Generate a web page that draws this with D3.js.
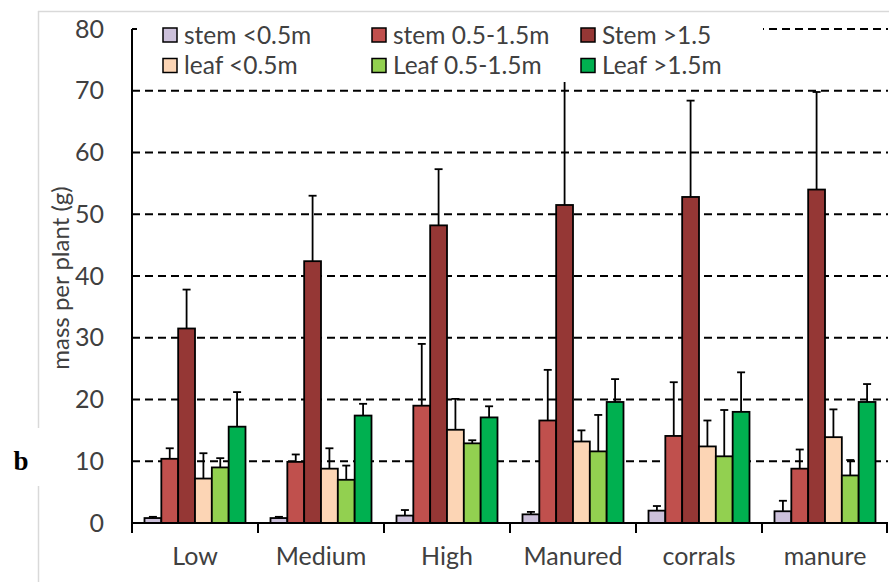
<!DOCTYPE html>
<html>
<head>
<meta charset="utf-8">
<script src="https://cdn.jsdelivr.net/npm/d3@7"></script>
<style>
  html, body { margin: 0; padding: 0; background: #fff; }
  svg { display: block; }
  text { font-family: Lato, "Open Sans", sans-serif; fill: #404040; }
</style>
</head>
<body>
<svg id="chart" width="889" height="582"></svg>
<script>
// ---- data ----
const categories = ["Low", "Medium", "High", "Manured", "corrals", "manure"];
const seriesNames = ["stem <0.5m", "stem 0.5-1.5m", "Stem >1.5", "leaf <0.5m", "Leaf 0.5-1.5m", "Leaf >1.5m"];
const seriesColors = ["#CCC0DA", "#C0504D", "#953735", "#FCD5B5", "#92D050", "#00B050"];

const stemLow   = [0.8, 0.8, 1.2, 1.4, 2.0, 1.9];
const stemMid   = [10.4, 9.9, 19.0, 16.6, 14.1, 8.8];
const stemHigh  = [31.5, 42.4, 48.2, 51.5, 52.8, 54.0];
const leafLow   = [7.2, 8.8, 15.1, 13.2, 12.4, 13.9];
const leafMid   = [9.0, 7.0, 12.9, 11.6, 10.8, 7.7];
const leafHigh  = [15.6, 17.4, 17.1, 19.6, 18.0, 19.6];

const stemLowErr  = [0.2, 0.2, 0.9, 0.4, 0.75, 1.7];
const stemMidErr  = [1.7, 1.2, 10.0, 8.2, 8.7, 3.1];
const stemHighErr = [6.3, 10.6, 9.1, 20.5, 15.6, 15.8];
const leafLowErr  = [4.1, 3.3, 5.0, 1.8, 4.2, 4.5];
const leafMidErr  = [1.5, 2.3, 0.5, 5.9, 7.5, 2.5];
const leafHighErr = [5.6, 1.9, 1.8, 3.7, 6.4, 2.9];

const yTicks = [0, 10, 20, 30, 40, 50, 60, 70, 80];
const yTitle = "mass per plant (g)";
const panelLabel = "b";

const seriesValues = [stemLow, stemMid, stemHigh, leafLow, leafMid, leafHigh];
const seriesErrors = [stemLowErr, stemMidErr, stemHighErr, leafLowErr, leafMidErr, leafHighErr];

// ---- layout ----
const svg = d3.select("#chart");
const plotLeft = 132, plotRight = 888, plotTop = 29, plotBottom = 523;

const x0 = d3.scaleBand().domain(categories).range([plotLeft, plotRight]).padding(0);
const x1 = d3.scaleBand().domain(seriesNames).range([12.5, x0.bandwidth() - 12.5]).padding(0);
const y = d3.scaleLinear().domain([0, 80]).range([plotBottom, plotTop]);

// frame (light gray)
svg.append("line").attr("x1", 38).attr("x2", 889).attr("y1", 11.5).attr("y2", 11.5)
  .attr("stroke", "#d9d9d9").attr("stroke-width", 1.5);
svg.append("line").attr("x1", 38.5).attr("x2", 38.5).attr("y1", 11).attr("y2", 428)
  .attr("stroke", "#d9d9d9").attr("stroke-width", 1.5);
svg.append("line").attr("x1", 38.5).attr("x2", 38.5).attr("y1", 486).attr("y2", 582)
  .attr("stroke", "#d9d9d9").attr("stroke-width", 1.5);

// gridlines
svg.append("g").selectAll("line").data(yTicks.filter(d => d > 0)).join("line")
  .attr("x1", plotLeft).attr("x2", plotRight)
  .attr("y1", d => y(d)).attr("y2", d => y(d))
  .attr("stroke", "#000").attr("stroke-width", 2)
  .attr("stroke-dasharray", "8,5");

// bars
const rows = [];
categories.forEach((c, ci) => {
  seriesNames.forEach((s, si) => {
    rows.push({ c, s, si, v: seriesValues[si][ci], e: seriesErrors[si][ci] });
  });
});

const g = svg.append("g");
g.selectAll("rect").data(rows).join("rect")
  .attr("x", d => x0(d.c) + x1(d.s))
  .attr("y", d => y(d.v))
  .attr("width", x1.bandwidth())
  .attr("height", d => y(0) - y(d.v))
  .attr("fill", d => seriesColors[d.si])
  .attr("stroke", "#000").attr("stroke-width", 1.8);

// error bars
const eb = svg.append("g").attr("stroke", "#000").attr("stroke-width", 1.8);
eb.selectAll("line.v").data(rows).join("line").attr("class", "v")
  .attr("x1", d => x0(d.c) + x1(d.s) + x1.bandwidth() / 2)
  .attr("x2", d => x0(d.c) + x1(d.s) + x1.bandwidth() / 2)
  .attr("y1", d => y(d.v)).attr("y2", d => y(d.v + d.e));
eb.selectAll("line.cap").data(rows).join("line").attr("class", "cap")
  .attr("x1", d => x0(d.c) + x1(d.s) + x1.bandwidth() / 2 - 4)
  .attr("x2", d => x0(d.c) + x1(d.s) + x1.bandwidth() / 2 + 4)
  .attr("y1", d => y(d.v + d.e)).attr("y2", d => y(d.v + d.e));

// legend (white box over plot)
const legend = svg.append("g");
legend.append("rect").attr("x", 137).attr("y", 13).attr("width", 626).attr("height", 69).attr("fill", "#fff");
const legX = [163, 372, 581];
const legY = [35, 65.5];
seriesNames.forEach((s, i) => {
  const col = i % 3, row = Math.floor(i / 3);
  const lg = legend.append("g").attr("transform", `translate(${legX[col]},${legY[row]})`);
  lg.append("rect").attr("x", 0).attr("y", -7).attr("width", 14).attr("height", 14)
    .attr("fill", seriesColors[i]).attr("stroke", "#000").attr("stroke-width", 1.5);
  lg.append("text").attr("x", 21).attr("y", 0).attr("dy", "0.35em")
    .style("font-size", "24.5px").text(s);
});

// axes
const yAxis = svg.append("g").attr("transform", `translate(${plotLeft},0)`)
  .call(d3.axisLeft(y).tickValues(yTicks).tickSize(0).tickPadding(28));
yAxis.select(".domain").remove();
yAxis.selectAll("text").style("font-size", "25px").attr("fill", "#404040");
svg.append("line").attr("x1", plotLeft).attr("x2", plotLeft).attr("y1", plotTop).attr("y2", plotBottom + 9)
  .attr("stroke", "#000").attr("stroke-width", 2);
svg.append("line").attr("x1", plotLeft).attr("x2", plotLeft + 5).attr("y1", plotTop).attr("y2", plotTop)
  .attr("stroke", "#000").attr("stroke-width", 2);

const xAxis = svg.append("g").attr("transform", `translate(0,${plotBottom})`)
  .call(d3.axisBottom(x0).tickSize(0).tickPadding(24));
xAxis.select(".domain").remove();
xAxis.selectAll("text").style("font-size", "25px").attr("fill", "#404040");
svg.append("line").attr("x1", plotLeft).attr("x2", plotRight).attr("y1", plotBottom).attr("y2", plotBottom)
  .attr("stroke", "#000").attr("stroke-width", 2);
const bounds = categories.map(c => x0(c)).concat([plotRight - 1]);
svg.append("g").selectAll("line").data(bounds).join("line")
  .attr("x1", d => d).attr("x2", d => d)
  .attr("y1", plotBottom).attr("y2", plotBottom + 10)
  .attr("stroke", "#000").attr("stroke-width", 2);

// y title
svg.append("text").attr("transform", "translate(69,278) rotate(-90)")
  .attr("text-anchor", "middle").style("font-size", "24px").text(yTitle);

// panel label
svg.append("text").attr("x", 21).attr("y", 470).attr("text-anchor", "middle")
  .style("font-family", "'Liberation Serif', 'Times New Roman', serif")
  .style("font-weight", "bold").style("font-size", "27px").style("fill", "#000")
  .text(panelLabel);
</script>
</body>
</html>
